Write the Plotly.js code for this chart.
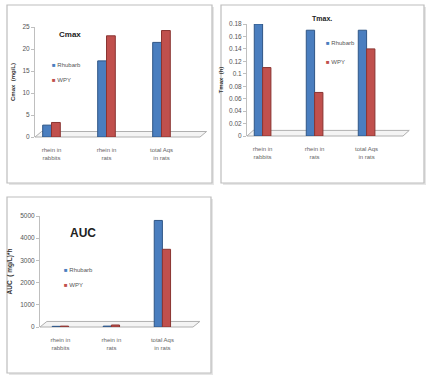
<!DOCTYPE html>
<html>
<head>
<meta charset="utf-8">
<script src="https://cdn.plot.ly/plotly-3.0.1.min.js"></script>
<style>html,body{margin:0;padding:0;background:#fff;}#chart{width:434px;height:383px;}</style>
</head>
<body>
<div id="chart"></div>
<script>
const categories = ['rhein in<br>rabbits', 'rhein in<br>rats', 'total Aqs<br>in rats'];
const seriesNames = ['Rhubarb', 'WPY'];
const cmaxRhubarb = [2.7, 17.3, 21.5];
const cmaxWPY = [3.3, 23.0, 24.2];
const tmaxRhubarb = [0.18, 0.17, 0.17];
const tmaxWPY = [0.11, 0.07, 0.14];
const aucRhubarb = [30, 40, 4800];
const aucWPY = [40, 90, 3500];

const blue = '#4a7ebf', blueDark = '#2f5686';
const red = '#c0504d', redDark = '#8a3532';
const colors = [blue, red];
const F = 'Liberation Sans, Arial, sans-serif';

function bar(name, y, xa, ya, col, dark) {
  return {type: 'bar', name: name, x: categories, y: y, xaxis: xa, yaxis: ya,
    marker: {color: col, line: {color: dark, width: 1}}, showlegend: false};
}
const data = [
  bar(seriesNames[0], cmaxRhubarb, 'x', 'y', blue, blueDark),
  bar(seriesNames[1], cmaxWPY, 'x', 'y', red, redDark),
  bar(seriesNames[0], tmaxRhubarb, 'x2', 'y2', blue, blueDark),
  bar(seriesNames[1], tmaxWPY, 'x2', 'y2', red, redDark),
  bar(seriesNames[0], aucRhubarb, 'x3', 'y3', blue, blueDark),
  bar(seriesNames[1], aucWPY, 'x3', 'y3', red, redDark)
];

const W = 434, H = 383;
const px = v => v / W, py = v => 1 - v / H;
function xax(d0, d1, range, anchor) {
  return {domain: [px(d0), px(d1)], range: range, anchor: anchor, showgrid: false, zeroline: false,
    showline: false, ticks: '', tickfont: {family: F, size: 6, color: '#666'}, ticklabelstandoff: 8, fixedrange: true};
}
function yax(d0, d1, range, dtick, anchor, title, tsize, standoff) {
  return {domain: [py(d0), py(d1)], range: range, dtick: dtick, anchor: anchor, showgrid: false, zeroline: false,
    showline: true, linecolor: '#bfbfbf', linewidth: 1, ticks: 'outside', ticklen: 3, tickcolor: '#bfbfbf',
    tickfont: {family: F, size: 6.5, color: '#555'},
    title: {text: title, font: {family: F, size: tsize, color: '#333', weight: 'bold'}, standoff: standoff}, fixedrange: true};
}
function floor(xa, ya, dx, dy) {
  return {type: 'path', xref: xa + ' domain', yref: ya + ' domain',
    path: `M 0 0 L 1 0 L ${1 + dx} ${dy} L ${dx} ${dy} Z`,
    fillcolor: '#f4f4f4', line: {color: '#b0b0b0', width: 1}, layer: 'below'};
}
function panel(x0, y0, x1, y1) {
  return [
    {type: 'rect', xref: 'paper', yref: 'paper', x0: px(x0 + 2), x1: px(x1 + 2), y0: py(y1 + 2), y1: py(y0 + 2),
      fillcolor: '#e6e6e6', line: {width: 0}, layer: 'below'},
    {type: 'rect', xref: 'paper', yref: 'paper', x0: px(x0), x1: px(x1), y0: py(y1), y1: py(y0),
      fillcolor: '#ffffff', line: {color: '#bdbdbd', width: 1.2}, layer: 'below'}
  ];
}
// legend built as annotations: coloured square + series name
function legendAnns(x, y0, gap) {
  return seriesNames.map((n, i) => ({
    xref: 'paper', yref: 'paper', x: px(x), y: py(y0 + i * gap), xanchor: 'left', yanchor: 'middle',
    showarrow: false, align: 'left',
    text: `<span style="color:${colors[i]}">■</span> ${n}`,
    font: {family: F, size: 6, color: '#555'}
  }));
}
function title(x, y, text, size) {
  return {xref: 'paper', yref: 'paper', x: px(x), y: py(y), xanchor: 'center', yanchor: 'middle',
    text: text, showarrow: false, font: {family: F, size: size, color: '#222', weight: 'bold'}};
}

const layout = {
  width: W, height: H, margin: {l: 0, r: 0, t: 0, b: 0},
  paper_bgcolor: '#ffffff', plot_bgcolor: 'rgba(0,0,0,0)',
  barmode: 'group', bargap: 0.68, bargroupgap: 0,
  font: {family: F}, showlegend: false,
  xaxis: xax(35, 200, [-0.3, 2.7], 'y'),
  yaxis: yax(137, 27, [0, 25], 5, 'x', 'Cmax  (mg/L)', 6, 6),
  xaxis2: xax(247, 403, [-0.3, 2.7], 'y2'),
  yaxis2: yax(136, 24, [0, 0.18], 0.02, 'x2', 'Tmax  (h)', 6, 4),
  xaxis3: xax(40, 193, [-0.4, 2.6], 'y3'),
  yaxis3: yax(327, 216, [0, 5000], 1000, 'x3', 'AUC  ( mg/L)*h', 6.5, 6),
  shapes: [].concat(
    panel(7, 5, 212, 183), panel(221, 5, 424, 183), panel(7, 197, 211, 373),
    [floor('x', 'y', 0.04, 0.05), floor('x2', 'y2', 0.04, 0.05), floor('x3', 'y3', 0.045, 0.05)]
  ),
  annotations: [
    title(70, 34, 'Cmax', 8),
    title(322, 18, 'Tmax.', 7),
    title(83, 233, 'AUC', 12)
  ].concat(legendAnns(50, 65, 15), legendAnns(324, 43, 19), legendAnns(62, 270, 15))
};

Plotly.newPlot('chart', data, layout, {staticPlot: true, displayModeBar: false});
</script>
</body>
</html>
